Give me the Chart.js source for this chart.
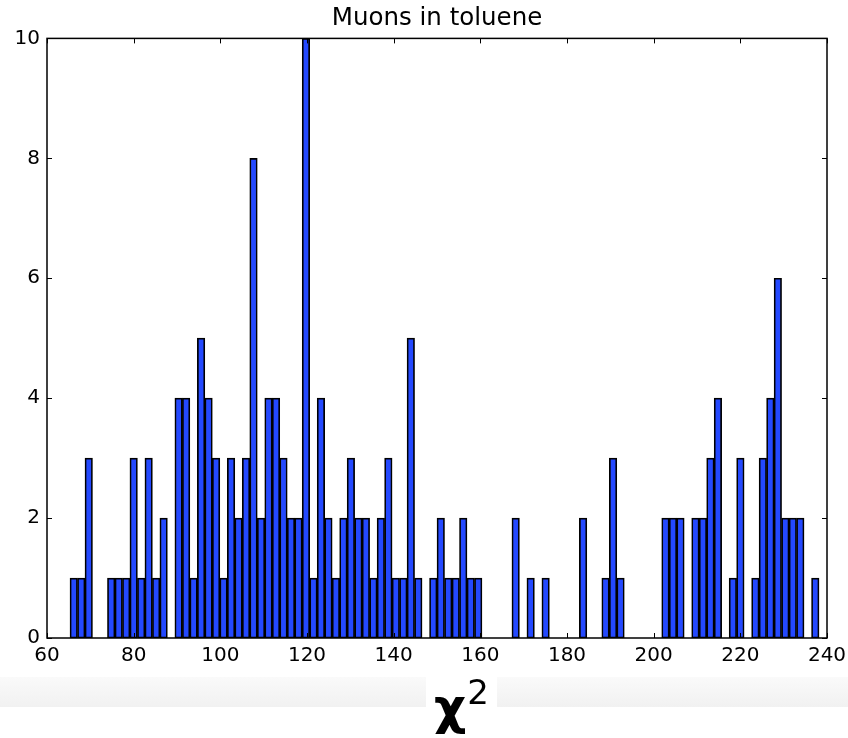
<!DOCTYPE html>
<html>
<head>
<meta charset="utf-8">
<script src="https://cdn.jsdelivr.net/npm/chart.js@4/dist/chart.umd.min.js"></script>
<style>
  html, body { margin: 0; padding: 0; background: #fff; }
  #wrap { position: relative; width: 848px; height: 738px; }
  .band { position: absolute; top: 677px; height: 30px;
          background: linear-gradient(#fafafa, #f1f1f1); }
  #xlabel { position: absolute; left: 434px; top: 675px;
            font-family: 'DejaVu Sans'; font-size: 50px; color: #000; line-height: 1; }
  #xlabel b { font-weight: bold; }
  #xlabel sup { font-size: 34px; vertical-align: 20px; margin-left: 1px; }
</style>
</head>
<body>
<div id="wrap">
  <canvas id="histChart" width="848" height="738"></canvas>
  <div class="band" style="left:0; width:426px;"></div>
  <div class="band" style="left:497px; width:351px;"></div>
  <div id="xlabel"><b>χ</b><sup>2</sup></div>
</div>
<script>
// histogram bins (100 bins)
const binStart = 65.31;
const binWidth = 1.7285;
const counts = [
  1, 1, 3, 0, 0, 1, 1, 1, 3, 1,
  3, 1, 2, 0, 4, 4, 1, 5, 4, 3,
  1, 3, 2, 3, 8, 2, 4, 4, 3, 2,
  2, 10, 1, 4, 2, 1, 2, 3, 2, 2,
  1, 2, 3, 1, 1, 5, 1, 0, 1, 2,
  1, 1, 2, 1, 1, 0, 0, 0, 0, 2,
  0, 1, 0, 1, 0, 0, 0, 0, 2, 0,
  0, 1, 3, 1, 0, 0, 0, 0, 0, 2,
  2, 2, 0, 2, 2, 3, 4, 0, 1, 3,
  0, 1, 3, 4, 6, 2, 2, 2, 0, 1
];
const xTicks = [60, 80, 100, 120, 140, 160, 180, 200, 220, 240];
const yTicks = [0, 2, 4, 6, 8, 10];
const chartTitle = 'Muons in toluene';

const points = counts.map((c, i) => ({ x: binStart + binWidth * (i + 0.5), y: c }));

// matplotlib-style box frame with inward ticks
const framePlugin = {
    id: 'frame',
    afterDraw(chart) {
        const ctx = chart.ctx;
        const a = chart.chartArea;
        const xs = chart.scales.x, ys = chart.scales.y;
        const len = 5;
        ctx.save();
        ctx.strokeStyle = '#000';
        ctx.lineWidth = 1;
        ctx.beginPath();
        xTicks.forEach(v => {
            const px = Math.round(xs.getPixelForValue(v)) + 0.5;
            ctx.moveTo(px, a.bottom); ctx.lineTo(px, a.bottom - len);
            ctx.moveTo(px, a.top); ctx.lineTo(px, a.top + len);
        });
        yTicks.forEach(v => {
            const py = Math.round(ys.getPixelForValue(v)) + 0.5;
            ctx.moveTo(a.left, py); ctx.lineTo(a.left + len, py);
            ctx.moveTo(a.right, py); ctx.lineTo(a.right - len, py);
        });
        ctx.stroke();
        ctx.lineWidth = 1.5;
        ctx.strokeRect(a.left, a.top, a.right - a.left, a.bottom - a.top);
        ctx.restore();
    }
};

const ctx = document.getElementById('histChart').getContext('2d');
new Chart(ctx, {
    type: 'bar',
    data: {
        datasets: [{
            data: points,
            backgroundColor: '#2449ff',
            borderColor: '#000',
            borderWidth: 1.7,
            borderSkipped: false,
            barPercentage: 1,
            categoryPercentage: 1,
            grouped: false
        }]
    },
    options: {
        responsive: false,
        animation: false,
        layout: { padding: { left: 0, right: 21, top: 0, bottom: 62 } },
        plugins: {
            legend: { display: false },
            tooltip: { enabled: false },
            title: {
                display: true,
                text: chartTitle,
                fullSize: false,
                color: '#000',
                font: { family: 'DejaVu Sans', size: 24.5, weight: 'normal' },
                padding: { top: 4, bottom: 5 }
            }
        },
        scales: {
            x: {
                type: 'linear',
                min: 60,
                max: 240,
                offset: false,
                afterBuildTicks: s => { s.ticks = xTicks.map(v => ({ value: v })); },
                afterFit: s => { s.height = 38; s.paddingLeft = 0; s.paddingRight = 0; },
                ticks: { color: '#000', padding: 6, maxRotation: 0,
                         font: { family: 'DejaVu Sans', size: 20 } },
                grid: { display: false, drawTicks: false, offset: false },
                border: { display: false }
            },
            y: {
                min: 0,
                max: 10,
                afterBuildTicks: s => { s.ticks = yTicks.map(v => ({ value: v })); },
                afterFit: s => { s.width = 47; s.paddingTop = 0; s.paddingBottom = 0; },
                ticks: { color: '#000', padding: 7,
                         font: { family: 'DejaVu Sans', size: 20 } },
                grid: { display: false, drawTicks: false },
                border: { display: false }
            }
        }
    },
    plugins: [framePlugin]
});
</script>
</body>
</html>
